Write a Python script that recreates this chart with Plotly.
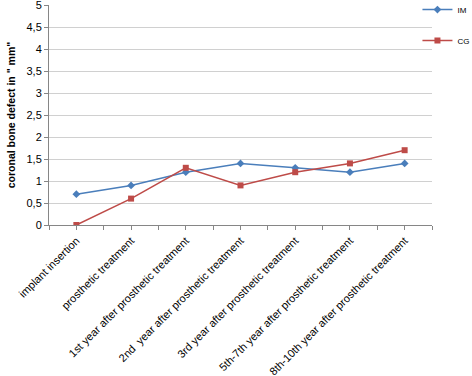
import plotly.graph_objects as go

categories = ["implant insertion", "prosthetic treatment", "1st year after prosthetic treatment",
              "2nd  year after prosthetic treatment", "3rd year after prosthetic treatment",
              "5th-7th year after prosthetic treatment", "8th-10th year after prosthetic treatment"]
im_values = [0.7, 0.9, 1.2, 1.4, 1.3, 1.2, 1.4]
cg_values = [0.0, 0.6, 1.3, 0.9, 1.2, 1.4, 1.7]
y_ticks = [0, 0.5, 1, 1.5, 2, 2.5, 3, 3.5, 4, 4.5, 5]
y_tick_labels = ["0", "0,5", "1", "1,5", "2", "2,5", "3", "3,5", "4", "4,5", "5"]

x_pos = list(range(len(categories)))

fig = go.Figure()
fig.add_trace(go.Scatter(x=x_pos, y=im_values, name="IM", mode="lines+markers",
                         line=dict(color="#4a7ebb", width=1.5),
                         marker=dict(symbol="diamond", size=6, color="#4a7ebb"),
                         legendgroup="a"))
fig.add_trace(go.Scatter(x=x_pos, y=cg_values, name="CG", mode="lines+markers",
                         line=dict(color="#be4b48", width=1.5),
                         marker=dict(symbol="square", size=6, color="#be4b48"),
                         legendgroup="b"))

fig.update_layout(
    width=472, height=376,
    margin=dict(l=49, r=40, t=5, b=151, autoexpand=False),
    paper_bgcolor="white", plot_bgcolor="white",
    font=dict(family="Liberation Sans, Arial, sans-serif", size=11, color="#000000"),
    showlegend=True,
    legend=dict(x=0.962, y=1.045, xanchor="left", yanchor="top",
                font=dict(size=8), tracegroupgap=12, itemwidth=30,
                bgcolor="rgba(0,0,0,0)"),
    xaxis=dict(range=[-0.5, 6.5], tickmode="array", tickvals=x_pos, ticktext=categories,
               tickangle=-45, showgrid=False, zeroline=False,
               showline=True, linecolor="#868686", linewidth=1,
               ticks="outside", ticklen=4, tickcolor="#868686",
               ticklabeloverflow="allow",
               minor=dict(tickvals=[i + 0.5 for i in range(-1, 7)], ticks="outside",
                          ticklen=4, tickcolor="#868686", showgrid=False)),
    yaxis=dict(range=[0, 5], tickmode="array", tickvals=y_ticks, ticktext=y_tick_labels,
               showgrid=True, gridcolor="#d0d0d0", gridwidth=1, zeroline=False,
               showline=True, linecolor="#868686", linewidth=1,
               ticks="outside", ticklen=4, tickcolor="#868686",
               ticklabeloverflow="allow",
               title=dict(text='<b>coronal bone defect in " mm"</b>',
                          font=dict(size=10.5, family="Liberation Sans, Arial, sans-serif"),
                          standoff=8)),
)

fig.write_html("out.html", config={"displayModeBar": False},
               post_script="document.body.style.margin='0px';")
